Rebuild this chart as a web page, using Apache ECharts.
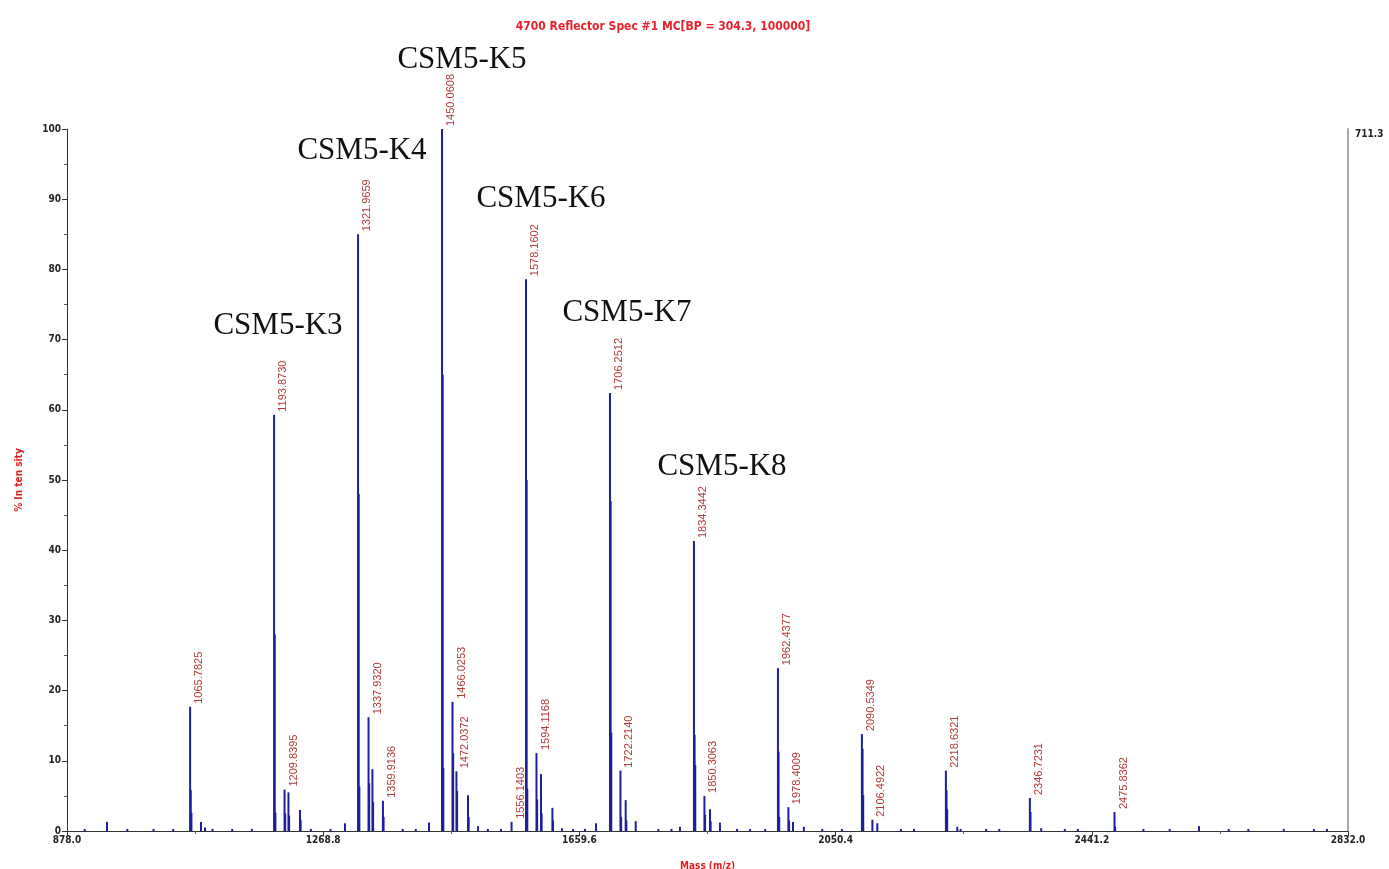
<!DOCTYPE html>
<html>
<head>
<meta charset="utf-8">
<script src="https://cdn.jsdelivr.net/npm/echarts@6/dist/echarts.min.js"></script>
<style>
html,body{margin:0;padding:0;background:#fff;}
#chart{width:1389px;height:869px;}
</style>
</head>
<body>
<div id="chart"></div>
<script>
// ---------- data ----------
const titleText = '4700 Reflector Spec #1 MC[BP = 304.3, 100000]';
const xTickLabels = [878.0, 1268.8, 1659.6, 2050.4, 2441.2, 2832.0];
const xMinorTicks = [1073.4, 1464.2, 1855.0, 2245.8, 2636.6];
const yTickLabels = [0, 10, 20, 30, 40, 50, 60, 70, 80, 90, 100];
const rightAxisMax = 711.3;

const peakMz = [
  905, 939.0, 970, 1010, 1040,
  1065.7825, 1066.79, 1067.79, 1082.4, 1088.5, 1100, 1130, 1160,
  1193.8730, 1194.88, 1195.88, 1209.8395, 1210.84, 1215.8, 1216.8, 1233.4, 1234.4,
  1250, 1280, 1302.0,
  1321.9659, 1322.97, 1323.97, 1337.9320, 1338.93, 1343.9, 1344.9, 1359.9136, 1360.92,
  1390, 1410, 1430.2,
  1450.0608, 1451.06, 1452.06, 1466.0253, 1467.03, 1472.0372, 1473.04, 1489.7, 1490.7, 1505,
  1520, 1540, 1556.1403,
  1578.1602, 1579.16, 1580.16, 1594.1168, 1595.12, 1601.0, 1602.0, 1618.4, 1619.4, 1633,
  1650, 1668, 1685,
  1706.2512, 1707.25, 1708.25, 1722.2140, 1723.22, 1730.2, 1731.2, 1745.5,
  1780, 1800, 1813,
  1834.3442, 1835.35, 1836.35, 1850.3063, 1851.31, 1858.8, 1859.8, 1874,
  1900, 1920, 1943,
  1962.4377, 1963.44, 1964.44, 1978.4009, 1979.40, 1985.4, 2002,
  2030, 2060,
  2090.5349, 2091.54, 2092.54, 2106.4922, 2114,
  2150, 2170,
  2218.6321, 2219.63, 2220.63, 2236, 2241,
  2280, 2300,
  2346.7231, 2347.72, 2364,
  2400, 2420,
  2475.8362, 2476.84,
  2520, 2560, 2604.7, 2650, 2680, 2734, 2780, 2800
];
const peakIntensity = [
  0.3, 1.3, 0.3, 0.3, 0.3,
  17.7, 5.8, 2.6, 1.3, 0.5, 0.3, 0.3, 0.3,
  59.3, 28.0, 2.6, 5.9, 2.5, 5.5, 2.2, 3.0, 1.6,
  0.3, 0.3, 1.1,
  85.0, 48.0, 6.3, 16.2, 6.8, 8.8, 4.1, 4.3, 2.0,
  0.3, 0.3, 1.2,
  100, 65.0, 9.0, 18.4, 11.1, 8.5, 5.7, 5.1, 2.0, 0.7,
  0.3, 0.3, 1.3,
  78.6, 50.0, 6.0, 11.1, 4.5, 8.1, 2.5, 3.3, 1.5, 0.4,
  0.3, 0.3, 1.1,
  62.4, 47.0, 14.0, 8.6, 2.0, 4.4, 1.5, 1.4,
  0.3, 0.3, 0.6,
  41.3, 13.7, 9.4, 5.0, 2.3, 3.1, 1.4, 1.2,
  0.3, 0.3, 0.3,
  23.2, 11.3, 2.0, 3.4, 1.5, 1.3, 0.6,
  0.3, 0.3,
  13.8, 11.7, 5.1, 1.6, 1.1,
  0.3, 0.3,
  8.6, 5.8, 3.1, 0.6, 0.3,
  0.3, 0.3,
  4.7, 2.7, 0.4,
  0.3, 0.3,
  2.7, 0.6,
  0.3, 0.3, 0.7, 0.3, 0.3, 0.3, 0.3, 0.3
];
const labelledMz = [
  1065.7825, 1193.8730, 1209.8395, 1321.9659, 1337.9320, 1359.9136,
  1450.0608, 1466.0253, 1472.0372, 1556.1403, 1578.1602, 1594.1168,
  1706.2512, 1722.2140, 1834.3442, 1850.3063, 1962.4377, 1978.4009,
  2090.5349, 2106.4922, 2218.6321, 2346.7231, 2475.8362
];
const clusterNames = ['CSM5-K3', 'CSM5-K4', 'CSM5-K5', 'CSM5-K6', 'CSM5-K7', 'CSM5-K8'];

// ---------- layout (pixel positions of cluster annotations) ----------
const clusterLabelPos = [[278, 326], [362, 151], [462, 60], [541, 199], [627, 313], [722, 467]];

const seriesData = peakMz.map((m, i) => [m, peakIntensity[i], labelledMz.indexOf(m) >= 0 ? 1 : 0]);

const chart = echarts.init(document.getElementById('chart'), null, {renderer: 'canvas'});

const narrow = "'Liberation Sans Narrow', 'DejaVu Sans Condensed', 'Liberation Sans', sans-serif";
const axisFont = {fontFamily: narrow, fontSize: 10, fontWeight: 'bold', color: '#222'};

const option = {
  backgroundColor: '#fff',
  animation: false,
  title: {
    text: titleText,
    left: 658, top: 16, textAlign: 'center',
    textStyle: {fontFamily: narrow, fontSize: 12, fontWeight: 'bold', color: '#e8202a'}
  },
  grid: {left: 67, right: 41, top: 129, bottom: 38, containLabel: false, outerBoundsMode: 'none'},
  xAxis: [{
    type: 'value', min: 878, max: 2832, position: 'bottom',
    name: 'Mass (m/z)', nameLocation: 'middle', nameGap: 30,
    nameTextStyle: {fontFamily: narrow, fontSize: 10, fontWeight: 'bold', color: '#e02020'},
    axisLine: {show: true, lineStyle: {color: '#333', width: 1}},
    axisTick: {show: true, length: 5, customValues: xTickLabels, lineStyle: {color: '#333'}},
    axisLabel: Object.assign({customValues: xTickLabels, margin: 4, formatter: v => Number(v).toFixed(1)}, axisFont),
    splitLine: {show: false}
  }, {
    type: 'value', min: 878, max: 2832, position: 'bottom', offset: 0,
    axisLine: {show: false},
    axisTick: {show: true, length: 3, customValues: xMinorTicks, lineStyle: {color: '#555'}},
    axisLabel: {show: false},
    splitLine: {show: false}
  }],
  yAxis: [{
    type: 'value', min: 0, max: 100, interval: 10, position: 'left',
    name: '% In ten sity', nameLocation: 'middle', nameGap: 43,
    nameTextStyle: {fontFamily: narrow, fontSize: 10, fontWeight: 'bold', color: '#e02020'},
    axisLine: {show: true, lineStyle: {color: '#333', width: 1}},
    axisTick: {show: true, length: 5, lineStyle: {color: '#333'}},
    minorTick: {show: true, splitNumber: 2, length: 3, lineStyle: {color: '#555'}},
    axisLabel: Object.assign({margin: 6, customValues: yTickLabels}, axisFont),
    splitLine: {show: false}
  }, {
    type: 'value', min: 0, max: rightAxisMax, position: 'right',
    axisLine: {show: true, lineStyle: {color: '#a8a8a8', width: 2}},
    axisTick: {show: false},
    axisLabel: Object.assign({customValues: [rightAxisMax], margin: 7, verticalAlign: 'top', formatter: v => Number(v).toFixed(1)}, axisFont),
    splitLine: {show: false}
  }],
  series: [{
    type: 'custom',
    xAxisIndex: 0, yAxisIndex: 0,
    data: seriesData,
    clip: false,
    renderItem: function (params, api) {
      const x = api.value(0), y = api.value(1), lab = api.value(2);
      const p0 = api.coord([x, 0]);
      const p1 = api.coord([x, y]);
      const children = [{
        type: 'line',
        shape: {x1: p0[0], y1: p0[1], x2: p1[0], y2: p1[1]},
        style: {stroke: '#1f1f9c', lineWidth: 2}
      }];
      if (lab) {
        children.push({
          type: 'text',
          x: p1[0] + 9, y: p1[1] - 3,
          rotation: Math.PI / 2,
          style: {
            text: x.toFixed(4),
            fontFamily: 'Liberation Sans', fontSize: 11,
            fill: '#b23a3a', align: 'left', verticalAlign: 'middle'
          }
        });
      }
      return {type: 'group', children: children};
    }
  }],
  graphic: clusterNames.map((t, i) => ({
    type: 'text',
    x: clusterLabelPos[i][0], y: clusterLabelPos[i][1],
    style: {
      text: t, fontFamily: 'Liberation Serif', fontSize: 31,
      fill: '#111', align: 'center', verticalAlign: 'middle'
    }
  }))
};
chart.setOption(option);
</script>
</body>
</html>
